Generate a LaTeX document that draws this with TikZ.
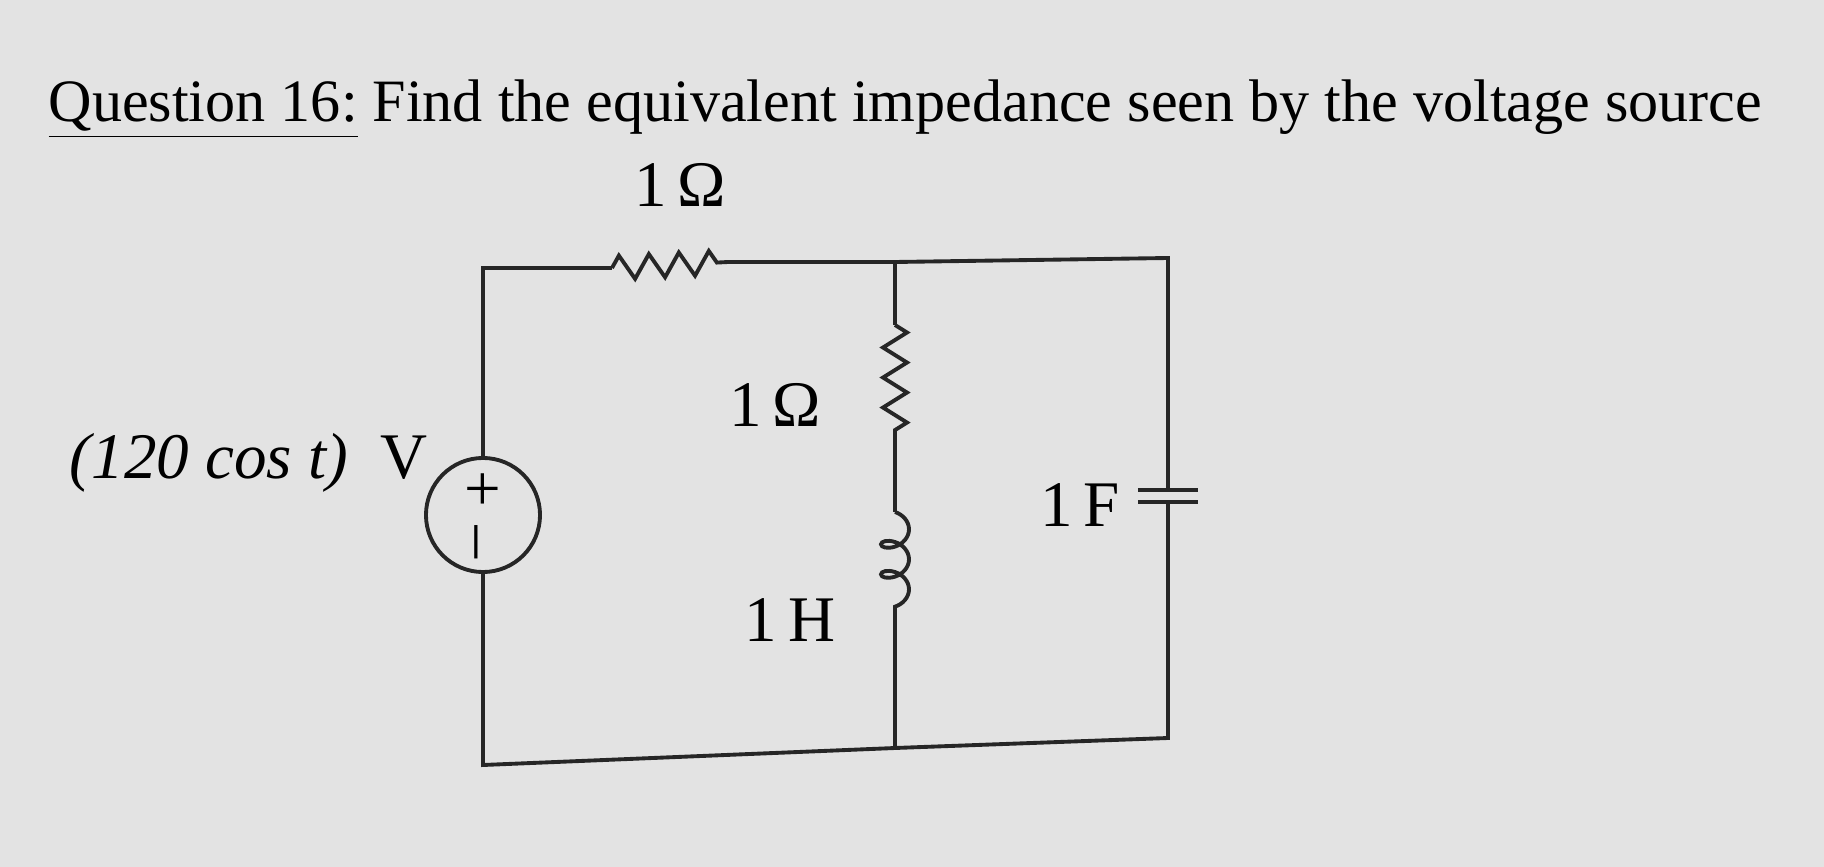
\documentclass[tikz,border=0pt]{standalone}
\usepackage{fontspec}
\setmainfont{Liberation Serif}
\usetikzlibrary{decorations.pathmorphing}
\begin{document}
\begin{tikzpicture}[x=0.01cm,y=-0.01cm,
  wire/.style={line width=1.1pt,black!85},
  res/.style={wire,decorate,decoration={zigzag,segment length=0.3cm,amplitude=0.12cm}},
  coilst/.style={wire,decorate,decoration={coil,segment length=0.3cm,amplitude=0.14cm,aspect=0.7}},
  lbl/.style={font=\fontsize{18.5}{22}\selectfont}]
\fill[gray!22] (0,0) rectangle (1824,867);
\useasboundingbox (0,0) rectangle (1824,867);
\node[anchor=base west,inner sep=0,font=\fontsize{17.1}{20}\selectfont] (title) at (48,122) {\underline{Question 16:} Find the equivalent impedance seen by the voltage source};
% corners
\coordinate (tl) at (483,268);
\coordinate (r1a) at (612,268);
\coordinate (r1b) at (728,262);
\coordinate (tm) at (895,262);
\coordinate (tr) at (1168,258);
\coordinate (bl) at (483,765);
\coordinate (bm) at (895,748);
\coordinate (br) at (1168,738);
\coordinate (r2a) at (895,325);
\coordinate (r2b) at (895,442);
\coordinate (la) at (895,512);
\coordinate (lb) at (895,628);
\coordinate (c1) at (1168,490);
\coordinate (c2) at (1168,502);
\node[draw,wire,circle,minimum size=1.14cm,inner sep=0] (src) at (483,515) {};
\node[lbl] (plus) at (483,492) {+};
\node[lbl,rotate=90] (minus) at (483,542) {--};
% wires
\draw[wire] (src.north) -- (tl) -- (r1a);
\draw[res] (r1a) -- (r1b);
\draw[wire] (r1b) -- (tm) -- (tr) -- (c1);
\draw[wire] (c2) -- (br) -- (bm) -- (bl) -- (src.south);
\draw[wire] (tm) -- (r2a);
\draw[res] (r2a) -- (r2b);
\draw[wire] (r2b) -- (la);
\draw[coilst] (la) -- (lb);
\draw[wire] (lb) -- (bm);
% capacitor plates
\draw[wire] ([xshift=-0.3cm]c1) -- ([xshift=0.3cm]c1);
\draw[wire] ([xshift=-0.3cm]c2) -- ([xshift=0.3cm]c2);
% labels
\node[lbl] (l1) at (680,185) {1\,Ω};
\node[lbl] (l2) at (775,405) {1\,Ω};
\node[lbl] (l3) at (790,620) {1\,H};
\node[lbl] (l4) at (1080,505) {1\,F};
\node[lbl,anchor=base east] (vs) at (440,478) {\textit{(120 cos t)}\enspace V};
\end{tikzpicture}
\end{document}
